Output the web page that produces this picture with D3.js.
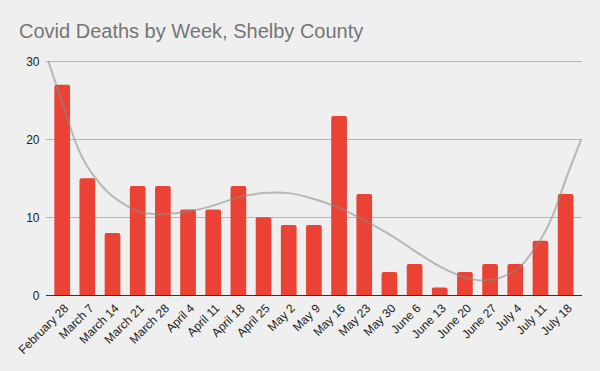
<!DOCTYPE html>
<html>
<head>
<meta charset="utf-8">
<script src="https://cdn.jsdelivr.net/npm/d3@7"></script>
<style>
  html, body { margin: 0; padding: 0; background: #efefef; }
  svg { display: block; font-family: "Liberation Sans", Arial, sans-serif; }
</style>
</head>
<body>
<div id="chart"></div>
<script>
// weekly deaths
var weeks = ['February 28','March 7','March 14','March 21','March 28','April 4','April 11',
  'April 18','April 25','May 2','May 9','May 16','May 23','May 30','June 6','June 13',
  'June 20','June 27','July 4','July 11','July 18']
var deaths = [27, 15, 8, 14, 14, 11, 11, 14, 10, 9, 9, 23, 13, 3, 4, 1, 3, 4, 4, 7, 13]
var yTicks = [0, 10, 20, 30]

// trendline, position in week index units
var trendPos = [-0.55, 0, 0.5, 1, 1.5, 2, 3, 4, 5, 6, 7, 8, 9, 10, 11, 12, 13, 14, 15, 16, 17, 18, 18.5, 19, 19.5, 20, 20.62]
var trendVals = [30, 24.7, 19.9, 16.5, 14.3, 12.7, 10.8, 10.4, 10.75, 11.5, 12.55, 13.1, 13.1, 12.35, 11.2, 9.6, 7.8, 5.7, 3.7, 2.3, 1.95, 3.15, 4.8, 7.1, 10.3, 14.8, 20]

var width = 600, height = 371
var plotLeft = 46, plotRight = 582, plotTop = 61.3, plotBottom = 295.3

var svg = d3.select('#chart').append('svg')
    .attr('width', width)
    .attr('height', height)

svg.append('rect')
    .attr('width', width)
    .attr('height', height)
    .attr('fill', '#efefef')

svg.append('text')
    .attr('x', 19)
    .attr('y', 38)
    .attr('font-size', 20)
    .attr('fill', '#757575')
    .text('Covid Deaths by Week, Shelby County')

var x = d3.scaleBand()
    .domain(weeks)
    .range([49.6, 578.2])
    .paddingInner(0.376)
    .paddingOuter(0.188)

var y = d3.scaleLinear()
    .domain([0, 30])
    .range([plotBottom, plotTop])

var xi = d3.scaleLinear()
    .domain([0, weeks.length - 1])
    .range([x(weeks[0]) + x.bandwidth() / 2, x(weeks[weeks.length - 1]) + x.bandwidth() / 2])

// gridlines
svg.append('g').selectAll('line')
    .data(yTicks.filter(d => d > 0))
    .enter().append('line')
    .attr('x1', plotLeft).attr('x2', plotRight)
    .attr('y1', d => Math.round(y(d)) + 0.5)
    .attr('y2', d => Math.round(y(d)) + 0.5)
    .attr('stroke', '#b7b7b7')

svg.append('g').selectAll('text')
    .data(yTicks)
    .enter().append('text')
    .attr('x', 39.5)
    .attr('y', d => y(d) + 4.3)
    .attr('text-anchor', 'end')
    .attr('font-size', 12)
    .attr('fill', '#222')
    .text(d => d)

// bars with slightly rounded tops
svg.append('g').selectAll('path')
    .data(deaths)
    .enter().append('path')
    .attr('fill', '#ea4335')
    .attr('d', function (d, i) {
        var x0 = x(weeks[i]), w = x.bandwidth(), y0 = y(d), r = 2
        return 'M' + x0 + ',' + plotBottom + 'V' + (y0 + r) + 'Q' + x0 + ',' + y0 + ' ' + (x0 + r) + ',' + y0 +
            'H' + (x0 + w - r) + 'Q' + (x0 + w) + ',' + y0 + ' ' + (x0 + w) + ',' + (y0 + r) + 'V' + plotBottom + 'Z'
    })

// baseline
svg.append('line')
    .attr('x1', plotLeft).attr('x2', plotRight)
    .attr('y1', Math.round(plotBottom) + 0.5).attr('y2', Math.round(plotBottom) + 0.5)
    .attr('stroke', '#333')

// trendline
var line = d3.line()
    .x(d => xi(d[0]))
    .y(d => y(d[1]))
    .curve(d3.curveNatural)

svg.append('path')
    .datum(trendPos.map((p, i) => [p, trendVals[i]]))
    .attr('d', line)
    .attr('fill', 'none')
    .attr('stroke', '#888')
    .attr('stroke-opacity', 0.55)
    .attr('stroke-width', 2)

// slanted week labels
svg.append('g').selectAll('text')
    .data(weeks)
    .enter().append('text')
    .attr('transform', d => 'translate(' + (x(d) + x.bandwidth() / 2 + 7) + ',' + 309 + ') rotate(-45)')
    .attr('text-anchor', 'end')
    .attr('font-size', 12)
    .attr('fill', '#222')
    .text(d => d)
</script>
</body>
</html>
